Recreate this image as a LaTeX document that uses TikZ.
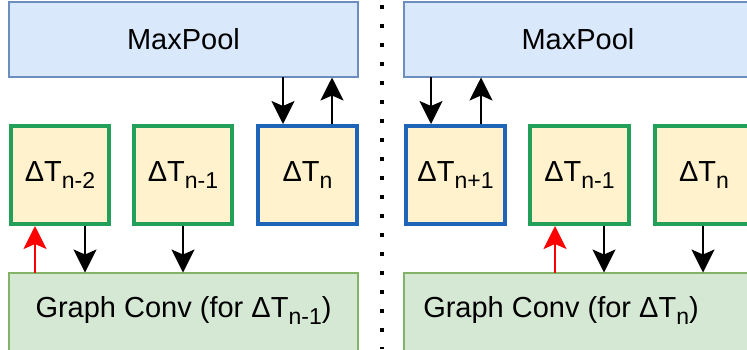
\documentclass[tikz,border=0pt]{standalone}
\usepackage{fontspec}
\setmainfont{Liberation Sans}
\usetikzlibrary{arrows.meta}
\definecolor{mpfill}{HTML}{DAE8FC}
\definecolor{mpdraw}{HTML}{6C8EBF}
\definecolor{tfill}{HTML}{FFF2CC}
\definecolor{tgreen}{HTML}{22A05A}
\definecolor{tblue}{HTML}{1E64B9}
\definecolor{gfill}{HTML}{D5E8D4}
\definecolor{gdraw}{HTML}{82B366}
\newcommand{\dsub}[1]{\raisebox{-7pt}{\fontsize{23}{23}\selectfont #1}}
\begin{document}
\begin{tikzpicture}[x=1pt,y=-1pt,
  every node/.style={font=\fontsize{29}{34}\selectfont, inner sep=0pt},
  pool/.style={draw=mpdraw, fill=mpfill, line width=1.5pt},
  tbox/.style={fill=tfill, line width=4pt},
  gbox/.style={draw=gdraw, fill=gfill, line width=1.5pt},
  arr/.style={-{Stealth[width=23pt,length=23pt,inset=5pt]}, line width=1.8pt, black},
  redarr/.style={-{Stealth[width=23pt,length=23pt,inset=5pt]}, line width=1.8pt, red}]
\useasboundingbox (0,0) rectangle (747,349);
\begin{scope}
\clip (0,0) rectangle (747,349);
% left
\draw[pool] (9,2) rectangle (358,77);
\node (mpL) at (183.5,39) {MaxPool};
\draw[tbox, draw=tgreen] (11,126) rectangle (109,224);
\node (a1) at (60,175) {ΔT\dsub{n-2}};
\draw[tbox, draw=tgreen] (134,126) rectangle (232,224);
\node (a2) at (183,175) {ΔT\dsub{n-1}};
\draw[tbox, draw=tblue] (258,126) rectangle (357,224);
\node (a3) at (307.5,175) {ΔT\dsub{n}};
\draw[gbox] (9,273) rectangle (358,352);
\node (gL) at (183.5,310) {Graph Conv (for ΔT\dsub{n-1})};
\draw[arr] (283,77) -- (283,124);
\draw[arr] (332,124) -- (332,77.5);
\draw[redarr] (35,273) -- (35,226);
\draw[arr] (85,226) -- (85,272.5);
\draw[arr] (183,226) -- (183,272.5);
% divider
\draw[line width=3.5pt, dash pattern=on 3.5pt off 15.5pt] (382,5) -- (382,349);
% right
\draw[pool] (404,2) rectangle (760,77);
\node (mpR) at (578,39) {MaxPool};
\draw[tbox, draw=tblue] (406,126) rectangle (505,224);
\node (b1) at (455.5,175) {ΔT\dsub{n+1}};
\draw[tbox, draw=tgreen] (530,126) rectangle (629,224);
\node (b2) at (579.5,175) {ΔT\dsub{n-1}};
\draw[tbox, draw=tgreen] (655,126) rectangle (753,224);
\node (b3) at (704,175) {ΔT\dsub{n}};
\draw[gbox] (404,273) rectangle (760,352);
\node (gR) at (561,310) {Graph Conv (for ΔT\dsub{n})};
\draw[arr] (431,77) -- (431,124);
\draw[arr] (481,124) -- (481,77.5);
\draw[redarr] (555,273) -- (555,226);
\draw[arr] (604,226) -- (604,272.5);
\draw[arr] (703,226) -- (703,272.5);
\end{scope}
\end{tikzpicture}
\end{document}
